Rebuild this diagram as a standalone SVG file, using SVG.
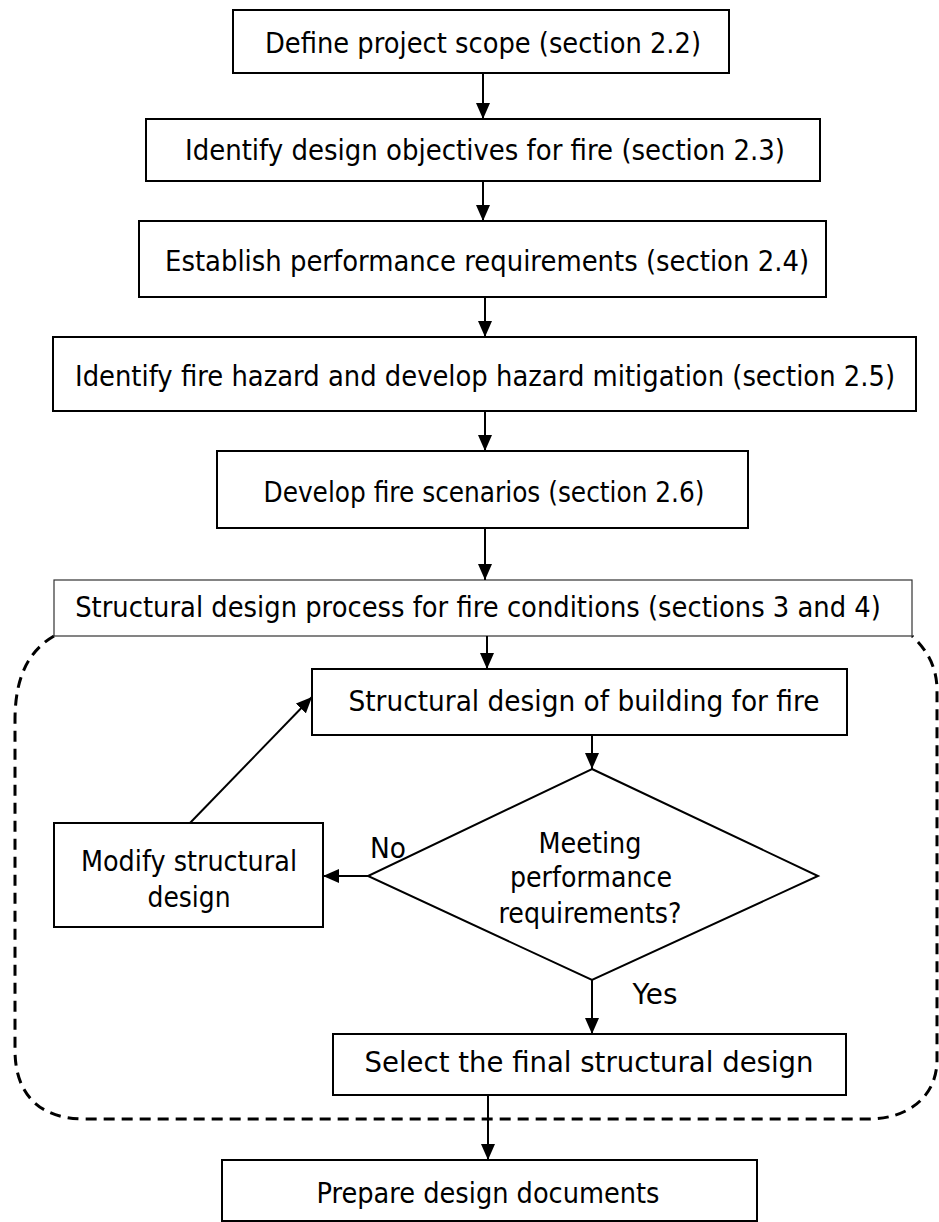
<svg xmlns="http://www.w3.org/2000/svg" width="939" height="1222" viewBox="0 0 939 1222">
<style>
.box{fill:#fff;stroke:#000;stroke-width:2}
.thin{fill:#fff;stroke:#333;stroke-width:1.2}
.t{font-family:"DejaVu Sans",sans-serif;font-size:28px;fill:#000;text-anchor:middle}
.c{stroke:#000;stroke-width:2;fill:none}
</style>
<defs>
<marker id="ah" viewBox="0 0 16 14" refX="16" refY="7" markerWidth="16" markerHeight="14" markerUnits="userSpaceOnUse" orient="auto">
<path d="M0,0 L16,7 L0,14 Z" fill="#000"/>
</marker>
</defs>
<rect width="939" height="1222" fill="#fff"/>
<g id="region">
<path d="M54,636 C30,650 15,675 15,720 L15,1050 C15,1095 40,1119 85,1119 L868,1119 C910,1119 937,1095 937,1060 L937,690 C937,665 925,648 912,636" fill="none" stroke="#000" stroke-width="3" stroke-dasharray="11,7"/>
</g>
<g id="n1"><rect class="box" x="233" y="10" width="496" height="63"/><text class="t" x="483" y="53" textLength="436" lengthAdjust="spacingAndGlyphs">Define project scope (section 2.2)</text></g>
<g id="n2"><rect class="box" x="146" y="119" width="674" height="62"/><text class="t" x="485" y="160" textLength="600" lengthAdjust="spacingAndGlyphs">Identify design objectives for fire (section 2.3)</text></g>
<g id="n3"><rect class="box" x="139" y="221" width="687" height="76"/><text class="t" x="487" y="271" textLength="644" lengthAdjust="spacingAndGlyphs">Establish performance requirements (section 2.4)</text></g>
<g id="n4"><rect class="box" x="53" y="337" width="863" height="74"/><text class="t" x="485" y="386" transform="matrix(0.8,0,0,1,97,0)" textLength="1025" lengthAdjust="spacingAndGlyphs">Identify fire hazard and develop hazard mitigation (section 2.5)</text></g>
<g id="n5"><rect class="box" x="217" y="451" width="531" height="77"/><text class="t" x="484" y="502" textLength="441" lengthAdjust="spacingAndGlyphs">Develop fire scenarios (section 2.6)</text></g>
<g id="n6"><rect class="thin" x="54" y="580" width="858" height="56"/><text class="t" x="478" y="617" transform="matrix(0.8,0,0,1,95.6,0)" textLength="1007" lengthAdjust="spacingAndGlyphs">Structural design process for fire conditions (sections 3 and 4)</text></g>
<g id="n7"><rect class="box" x="312" y="669" width="535" height="66"/><text class="t" x="584" y="711" textLength="471" lengthAdjust="spacingAndGlyphs">Structural design of building for fire</text></g>
<g id="n8"><polygon class="box" points="592,769 818,876 592,980 368,876"/>
<text class="t" x="590" y="853" textLength="103" lengthAdjust="spacingAndGlyphs">Meeting</text>
<text class="t" x="591" y="887" textLength="162" lengthAdjust="spacingAndGlyphs">performance</text>
<text class="t" x="590" y="923" textLength="183" lengthAdjust="spacingAndGlyphs">requirements?</text></g>
<g id="n9"><rect class="box" x="54" y="823" width="269" height="104"/>
<text class="t" x="189" y="871" textLength="216" lengthAdjust="spacingAndGlyphs">Modify structural</text>
<text class="t" x="189" y="907" textLength="83" lengthAdjust="spacingAndGlyphs">design</text></g>
<g id="n10"><rect class="box" x="333" y="1034" width="513" height="61"/><text class="t" x="589" y="1072" textLength="449" lengthAdjust="spacingAndGlyphs">Select the final structural design</text></g>
<g id="n11"><rect class="box" x="222" y="1160" width="535" height="61"/><text class="t" x="488" y="1203" textLength="343" lengthAdjust="spacingAndGlyphs">Prepare design documents</text></g>
<g id="connectors">
<line class="c" x1="483" y1="73" x2="483" y2="119" marker-end="url(#ah)"/>
<line class="c" x1="483" y1="181" x2="483" y2="221" marker-end="url(#ah)"/>
<line class="c" x1="485" y1="297" x2="485" y2="337" marker-end="url(#ah)"/>
<line class="c" x1="485" y1="411" x2="485" y2="451" marker-end="url(#ah)"/>
<line class="c" x1="485" y1="528" x2="485" y2="580" marker-end="url(#ah)"/>
<line class="c" x1="487" y1="636" x2="487" y2="669" marker-end="url(#ah)"/>
<line class="c" x1="592" y1="735" x2="592" y2="769" marker-end="url(#ah)"/>
<line class="c" x1="368" y1="876" x2="323" y2="876" marker-end="url(#ah)"/>
<line class="c" x1="190" y1="823" x2="312" y2="697" marker-end="url(#ah)"/>
<line class="c" x1="592" y1="980" x2="592" y2="1034" marker-end="url(#ah)"/>
<line class="c" x1="488" y1="1095" x2="488" y2="1160" marker-end="url(#ah)"/>
<text class="t" x="388" y="858" textLength="36" lengthAdjust="spacingAndGlyphs">No</text>
<text class="t" x="655" y="1004" textLength="45" lengthAdjust="spacingAndGlyphs">Yes</text>
</g>
</svg>
